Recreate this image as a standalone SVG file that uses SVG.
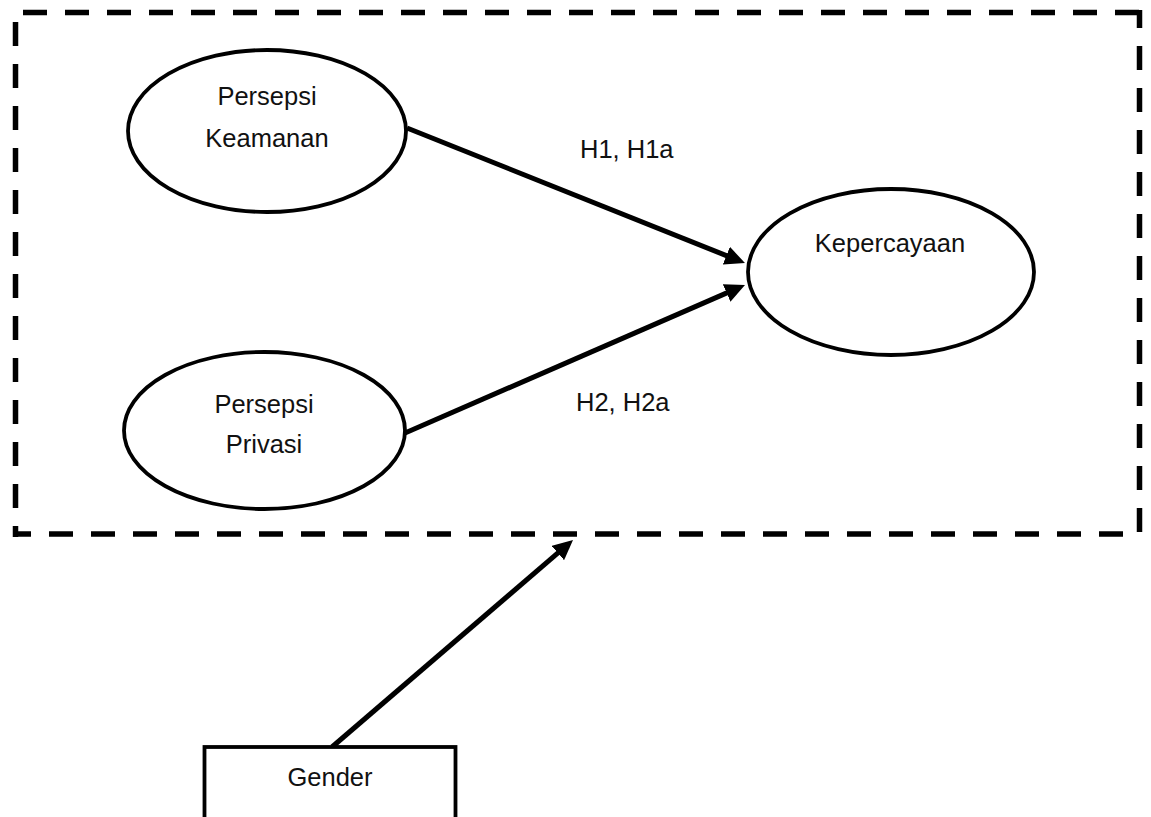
<svg xmlns="http://www.w3.org/2000/svg" width="1151" height="817" viewBox="0 0 1151 817">
  <style>
    .dash { stroke: #000; stroke-width: 5.5; stroke-dasharray: 24 18; fill: none; }
    .node { fill: #fff; stroke: #000; stroke-width: 3.8; }
    .lbl { font-family: "Liberation Sans", Arial, sans-serif; font-size: 25.5px; fill: #111; }
    .mid { text-anchor: middle; }
    .conn { stroke: #000; stroke-width: 5; fill: none; marker-end: url(#ah); }
  </style>
  <defs>
    <marker id="ah" markerUnits="userSpaceOnUse" markerWidth="20" markerHeight="19" refX="4" refY="9.5" orient="auto" viewBox="0 0 20 19">
      <path d="M0,0 L20,9.5 L0,19 Z" fill="#000"/>
    </marker>
  </defs>
  <rect width="1151" height="817" fill="#fff"/>

  <g id="moderation-frame">
    <line class="dash" x1="23" y1="12.5" x2="1142" y2="12.5"/>
    <line class="dash" x1="1139.5" y1="10" x2="1139.5" y2="535" stroke-dashoffset="6"/>
    <line class="dash" x1="15.5" y1="22" x2="15.5" y2="537"/>
    <line class="dash" x1="13" y1="534" x2="1135" y2="534" stroke-dashoffset="6"/>
  </g>

  <g id="connectors">
    <line class="conn" x1="407" y1="128" x2="730.1" y2="257.1"/>
    <line class="conn" x1="405" y1="433" x2="730.3" y2="291.4"/>
    <line class="conn" x1="332" y1="747" x2="560.9" y2="550.4"/>
    <text class="lbl" x="580" y="158">H1, H1a</text>
    <text class="lbl" x="576" y="411">H2, H2a</text>
  </g>

  <g id="persepsi-keamanan">
    <ellipse class="node" cx="267" cy="131" rx="139" ry="81"/>
    <text class="lbl mid" x="267" y="105">Persepsi</text>
    <text class="lbl mid" x="267" y="147">Keamanan</text>
  </g>

  <g id="persepsi-privasi">
    <ellipse class="node" cx="264.5" cy="430.5" rx="140.5" ry="78.5"/>
    <text class="lbl mid" x="264" y="413">Persepsi</text>
    <text class="lbl mid" x="264" y="453">Privasi</text>
  </g>

  <g id="kepercayaan">
    <ellipse class="node" cx="891" cy="272" rx="143" ry="83"/>
    <text class="lbl mid" x="890" y="252">Kepercayaan</text>
  </g>

  <g id="gender">
    <rect class="node" x="204.5" y="747" width="251" height="100"/>
    <text class="lbl mid" x="330" y="786">Gender</text>
  </g>
</svg>
